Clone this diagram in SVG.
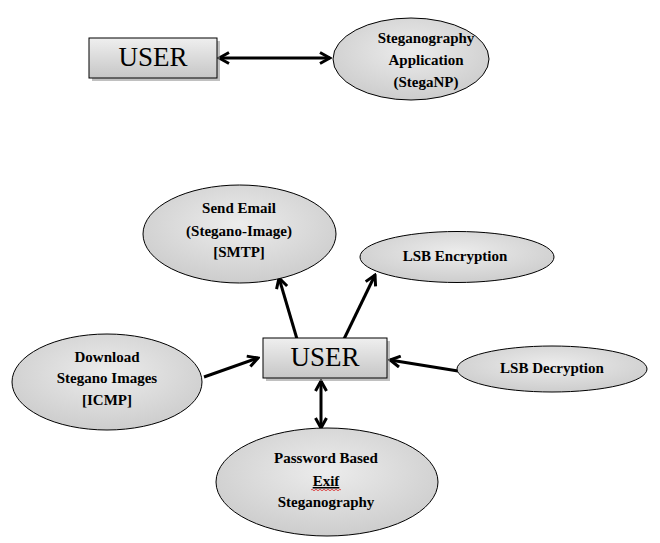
<svg xmlns="http://www.w3.org/2000/svg" width="660" height="543" viewBox="0 0 660 543">
<style>
.box{fill:url(#boxg);stroke:#000;stroke-width:1}
.shadow{fill:#8c8c8c;opacity:0.55}
.ell{fill:url(#ellg);stroke:#000;stroke-width:1}
.ut{font-family:"Liberation Serif","Times New Roman",serif;font-size:27px;fill:#000;text-anchor:middle}
.lt{font-family:"Liberation Serif","Times New Roman",serif;font-size:15px;font-weight:bold;fill:#000;text-anchor:middle}
.con{stroke:#000;stroke-width:3;fill:none}
</style>
<defs>
<linearGradient id="boxg" x1="0" y1="0" x2="0" y2="1">
<stop offset="0" stop-color="#efefef"/>
<stop offset="1" stop-color="#c6c6c6"/>
</linearGradient>
<radialGradient id="ellg" cx="0.5" cy="0.4" r="0.6">
<stop offset="0" stop-color="#ececec"/>
<stop offset="1" stop-color="#cdcdcd"/>
</radialGradient>
<marker id="ah" viewBox="0 0 14 14" refX="12" refY="7" markerWidth="14" markerHeight="14" markerUnits="userSpaceOnUse" orient="auto-start-reverse">
<path d="M2,1.5 L12,7 L2,12.5" fill="none" stroke="#000" stroke-width="3"/>
</marker>
</defs>

<g id="connectors">
<line class="con" x1="219" y1="58" x2="330" y2="58" marker-start="url(#ah)" marker-end="url(#ah)"/>
<line class="con" x1="297" y1="339" x2="279" y2="278" marker-end="url(#ah)"/>
<line class="con" x1="344" y1="339" x2="375" y2="275" marker-end="url(#ah)"/>
<line class="con" x1="204" y1="377" x2="258" y2="358" marker-end="url(#ah)"/>
<line class="con" x1="458" y1="371" x2="390" y2="360" marker-end="url(#ah)"/>
<line class="con" x1="321" y1="381" x2="321" y2="428" marker-start="url(#ah)" marker-end="url(#ah)"/>
</g>

<g id="user-top">
<rect class="shadow" x="92" y="41" width="128" height="40"/>
<rect class="box" x="89" y="38" width="128" height="40"/>
<text class="ut" x="153" y="66">USER</text>
</g>

<g id="stega-app">
<ellipse class="ell" cx="411" cy="59" rx="78" ry="41"/>
<text class="lt" x="426" y="43">Steganography</text>
<text class="lt" x="426" y="65">Application</text>
<text class="lt" x="426" y="87">(StegaNP)</text>
</g>

<g id="send-email">
<ellipse class="ell" cx="239.5" cy="234" rx="96.5" ry="49"/>
<text class="lt" x="239" y="213">Send Email</text>
<text class="lt" x="239" y="236">(Stegano-Image)</text>
<text class="lt" x="239" y="257">[SMTP]</text>
</g>

<g id="lsb-encryption">
<ellipse class="ell" cx="457" cy="257" rx="97" ry="25.5"/>
<text class="lt" x="455" y="261">LSB Encryption</text>
</g>

<g id="user-center">
<rect class="shadow" x="266" y="341" width="124" height="40"/>
<rect class="box" x="263" y="338" width="124" height="40"/>
<text class="ut" x="325" y="366">USER</text>
</g>

<g id="download">
<ellipse class="ell" cx="107" cy="382" rx="95" ry="48"/>
<text class="lt" x="107" y="362">Download</text>
<text class="lt" x="107" y="383">Stegano Images</text>
<text class="lt" x="107" y="405">[ICMP]</text>
</g>

<g id="lsb-decryption">
<ellipse class="ell" cx="552" cy="369" rx="95" ry="23"/>
<text class="lt" x="552" y="373">LSB Decryption</text>
</g>

<g id="password-exif">
<ellipse class="ell" cx="327" cy="482" rx="111" ry="54"/>
<text class="lt" x="326" y="463">Password Based</text>
<text class="lt" x="326" y="486" text-decoration="underline">Exif</text>
<path d="M311,490 q1,-1.5 2,0 t2,0 t2,0 t2,0 t2,0 t2,0 t2,0 t2,0 t2,0 t2,0 t2,0 t2,0 t2,0 t2,0 t2,0" fill="none" stroke="#d22" stroke-width="0.8"/>
<text class="lt" x="326" y="507">Steganography</text>
</g>
</svg>
